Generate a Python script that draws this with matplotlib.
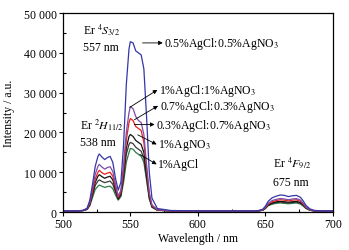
import matplotlib
matplotlib.use('Agg')
import matplotlib.pyplot as plt
from matplotlib.ticker import MultipleLocator, FuncFormatter

plt.rcParams['font.family'] = ['Liberation Serif', 'DejaVu Serif']
plt.rcParams['mathtext.fontset'] = 'stix'
plt.rcParams['font.size'] = 8.5

# wavelength grid (nm)
wavelength = [500, 510, 515, 518, 520, 522, 524, 526, 527, 529,
              531, 533, 535, 537, 539, 541, 543, 545, 547, 549,
              550, 552, 554, 556, 558, 560, 562, 564, 566, 570,
              580, 600, 620, 640, 645, 648, 650, 652, 655, 658,
              661, 664, 667, 670, 673, 676, 678, 680, 683, 686,
              690, 700]

# intensities (a.u.)
i_05_05 = [300, 300, 400, 1000, 3000, 7000, 11500, 14000, 14600, 13800,
           13200, 13700, 14000, 12500, 8500, 5500, 7500, 17000, 32000, 41000,
           42800, 42500, 40500, 40000, 39500, 36000, 24000, 10000, 3500, 900,
           400, 300, 300, 300, 400, 700, 1500, 2700, 3600, 4000,
           4300, 4200, 3900, 4100, 4200, 3700, 2800, 1700, 800, 450,
           300, 300]
i_1_1 = [300, 300, 400, 900, 2500, 6000, 9500, 11500, 12000, 11300,
         10800, 11200, 11400, 10200, 7000, 4000, 5500, 12000, 20000, 25000,
         26500, 26000, 24000, 23000, 22500, 19500, 12000, 5000, 1800, 600,
         300, 250, 250, 250, 350, 600, 1200, 2200, 2900, 3200,
         3400, 3300, 3100, 3300, 3400, 3000, 2200, 1300, 600, 350,
         250, 250]
i_07_03 = [300, 300, 400, 800, 2200, 5200, 8300, 10000, 10500, 9900,
           9500, 9800, 10000, 9000, 6200, 3700, 5000, 10500, 18000, 22500,
           23500, 23000, 21500, 21000, 20500, 17500, 11000, 4500, 1600, 550,
           300, 250, 250, 250, 330, 550, 1100, 2000, 2600, 2900,
           3100, 3000, 2800, 3000, 3100, 2700, 2000, 1200, 550, 330,
           250, 250]
i_03_07 = [300, 300, 400, 750, 2000, 4700, 7500, 9000, 9400, 8900,
           8500, 8800, 9000, 8100, 5600, 3400, 4600, 9500, 16000, 19000,
           19500, 19000, 18000, 17500, 17000, 15000, 9500, 4000, 1400, 500,
           300, 250, 250, 250, 320, 500, 1000, 1800, 2300, 2600,
           2700, 2600, 2500, 2600, 2700, 2400, 1800, 1100, 500, 320,
           250, 250]
i_agno3 = [300, 300, 400, 700, 1800, 4200, 6700, 7800, 8100, 7700,
           7400, 7600, 7800, 7000, 5000, 3200, 4200, 8500, 14500, 17000,
           17500, 17200, 16300, 15800, 15300, 13500, 8500, 3600, 1300, 500,
           300, 250, 250, 250, 300, 480, 950, 1700, 2100, 2400,
           2500, 2400, 2300, 2400, 2500, 2200, 1700, 1000, 480, 300,
           250, 250]
i_agcl = [300, 300, 400, 650, 1600, 3700, 5700, 6500, 6800, 6500,
          6200, 6400, 6500, 5900, 4300, 3000, 3900, 7500, 12500, 15000,
          16000, 15800, 15000, 14500, 14000, 12500, 8000, 3300, 1200, 450,
          280, 250, 250, 250, 300, 450, 900, 1600, 2000, 2200,
          2300, 2200, 2100, 2200, 2300, 2000, 1500, 900, 450, 300,
          250, 250]

series = [i_agcl, i_agno3, i_03_07, i_07_03, i_1_1, i_05_05]
colors = ['#2f7a4a', '#3a3a3a', '#111111', '#e8201c', '#7a4ea6', '#3535a8']

labels = ['0.5%AgCl:0.5%AgNO$_3$', '1%AgCl:1%AgNO$_3$',
          '0.7%AgCl:0.3%AgNO$_3$', '0.3%AgCl:0.7%AgNO$_3$',
          '1%AgNO$_3$', '1%AgCl']
arrow_from = [(559, 42500), (549.5, 26300), (553, 23200),
              (553, 22000), (555.5, 19400), (557, 14500)]
arrow_to = [(574, 42500), (570, 30700), (570.5, 26700),
            (568, 22000), (569.5, 17000), (569.5, 12000)]

fig = plt.figure(figsize=(3.49, 2.51), dpi=100)
ax = fig.add_axes([0.18, 0.151, 0.774, 0.793])

for y, c in zip(series, colors):
    ax.plot(wavelength, y, color=c, linewidth=0.9)

# arrows go from the curve to its label
for lab, p0, p1 in zip(labels, arrow_from, arrow_to):
    ax.annotate('', xy=p1, xytext=p0,
                arrowprops=dict(arrowstyle='-|>', color='black', lw=0.6,
                                mutation_scale=6, shrinkA=0, shrinkB=0))
    ax.text(p1[0] + 1.2, p1[1], lab, ha='left', va='center')

ax.text(515, 46000, 'Er $^{4}S_{3/2}$', ha='left', va='center')
ax.text(515, 41500, '557 nm', ha='left', va='center')
ax.text(512.5, 22000, 'Er $^{2}H_{11/2}$', ha='left', va='center')
ax.text(512.5, 17500, '538 nm', ha='left', va='center')
ax.text(655.5, 12500, 'Er $^{4}F_{9/2}$', ha='left', va='center')
ax.text(655.5, 7500, '675 nm', ha='left', va='center')

ax.set_xlim(500, 700)
ax.set_ylim(0, 50000)
ax.xaxis.set_major_locator(MultipleLocator(50))
ax.xaxis.set_minor_locator(MultipleLocator(25))
ax.yaxis.set_major_locator(MultipleLocator(10000))
ax.yaxis.set_minor_locator(MultipleLocator(5000))
ax.yaxis.set_major_formatter(FuncFormatter(lambda v, p: f'{int(v):,}'.replace(',', ' ')))
ax.tick_params(which='major', direction='out', length=3, width=0.8, pad=1.5)
ax.tick_params(which='minor', direction='in', length=2, width=0.8)
for s in ax.spines.values():
    s.set_linewidth(0.9)

ax.set_xlabel('Wavelength / nm', labelpad=1)
ax.set_ylabel('Intensity / a.u.', labelpad=6)

fig.savefig('out.png', dpi=100)
